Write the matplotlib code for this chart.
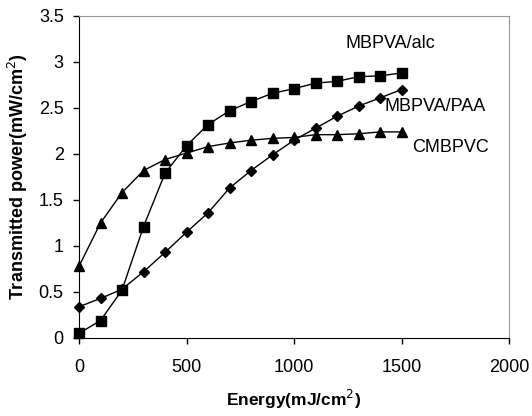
import numpy as np
import matplotlib
matplotlib.use('Agg')
import matplotlib.pyplot as plt

plt.rcParams['font.family'] = ['Liberation Sans', 'DejaVu Sans']

# energy (mJ/cm2)
energy = [0, 100, 200, 300, 400, 500, 600, 700, 800, 900,
          1000, 1100, 1200, 1300, 1400, 1500]
# transmitted power (mW/cm2)
alc = [0.05, 0.19, 0.52, 1.21, 1.79, 2.09, 2.32, 2.47, 2.57, 2.66,
       2.71, 2.77, 2.79, 2.84, 2.85, 2.88]
paa = [0.34, 0.43, 0.53, 0.72, 0.93, 1.15, 1.36, 1.63, 1.82, 1.99,
       2.15, 2.28, 2.41, 2.52, 2.61, 2.70]
pvc = [0.78, 1.25, 1.58, 1.82, 1.94, 2.01, 2.08, 2.12, 2.15, 2.17,
       2.18, 2.21, 2.21, 2.22, 2.24, 2.24]

fig = plt.figure(figsize=(5.32, 4.16), dpi=100)
ax = fig.add_axes([79/532, 1-338/416, 430/532, 322/416])

ax.plot(energy, alc, 'k-', marker='s', ms=6.5, lw=1, clip_on=False)
ax.plot(energy, paa, 'k-', marker='D', ms=5, lw=1, clip_on=False)
ax.plot(energy, pvc, 'k-', marker='^', ms=7, lw=1, clip_on=False)

ax.text(1240, 3.20, 'MBPVA/alc', fontsize=13, va='center', ha='left')
ax.text(1420, 2.52, 'MBPVA/PAA', fontsize=13, va='center', ha='left')
ax.text(1548, 2.07, 'CMBPVC', fontsize=13, va='center', ha='left')

ax.set_xlim(0, 2000)
ax.set_ylim(0, 3.5)
ax.set_xticks([0, 500, 1000, 1500, 2000])
ax.set_yticks([0, 0.5, 1, 1.5, 2, 2.5, 3, 3.5])
ax.set_yticklabels(['0', '0.5', '1', '1.5', '2', '2.5', '3', '3.5'])
ax.tick_params(direction='out', length=4, width=1, labelsize=13, pad=7)
ax.tick_params(axis='x', pad=11)

for s in ['top', 'right']:
    ax.spines[s].set_color('#999999')
for s in ['left', 'bottom']:
    ax.spines[s].set_color('black')

ax.set_xlabel('Energy(mJ/cm$^2$)', fontsize=12.5, fontweight='bold', labelpad=9)
ax.set_ylabel('Transmitted power(mW/cm$^2$)', fontsize=13, fontweight='bold', labelpad=6)

fig.savefig('out.png', dpi=100)
